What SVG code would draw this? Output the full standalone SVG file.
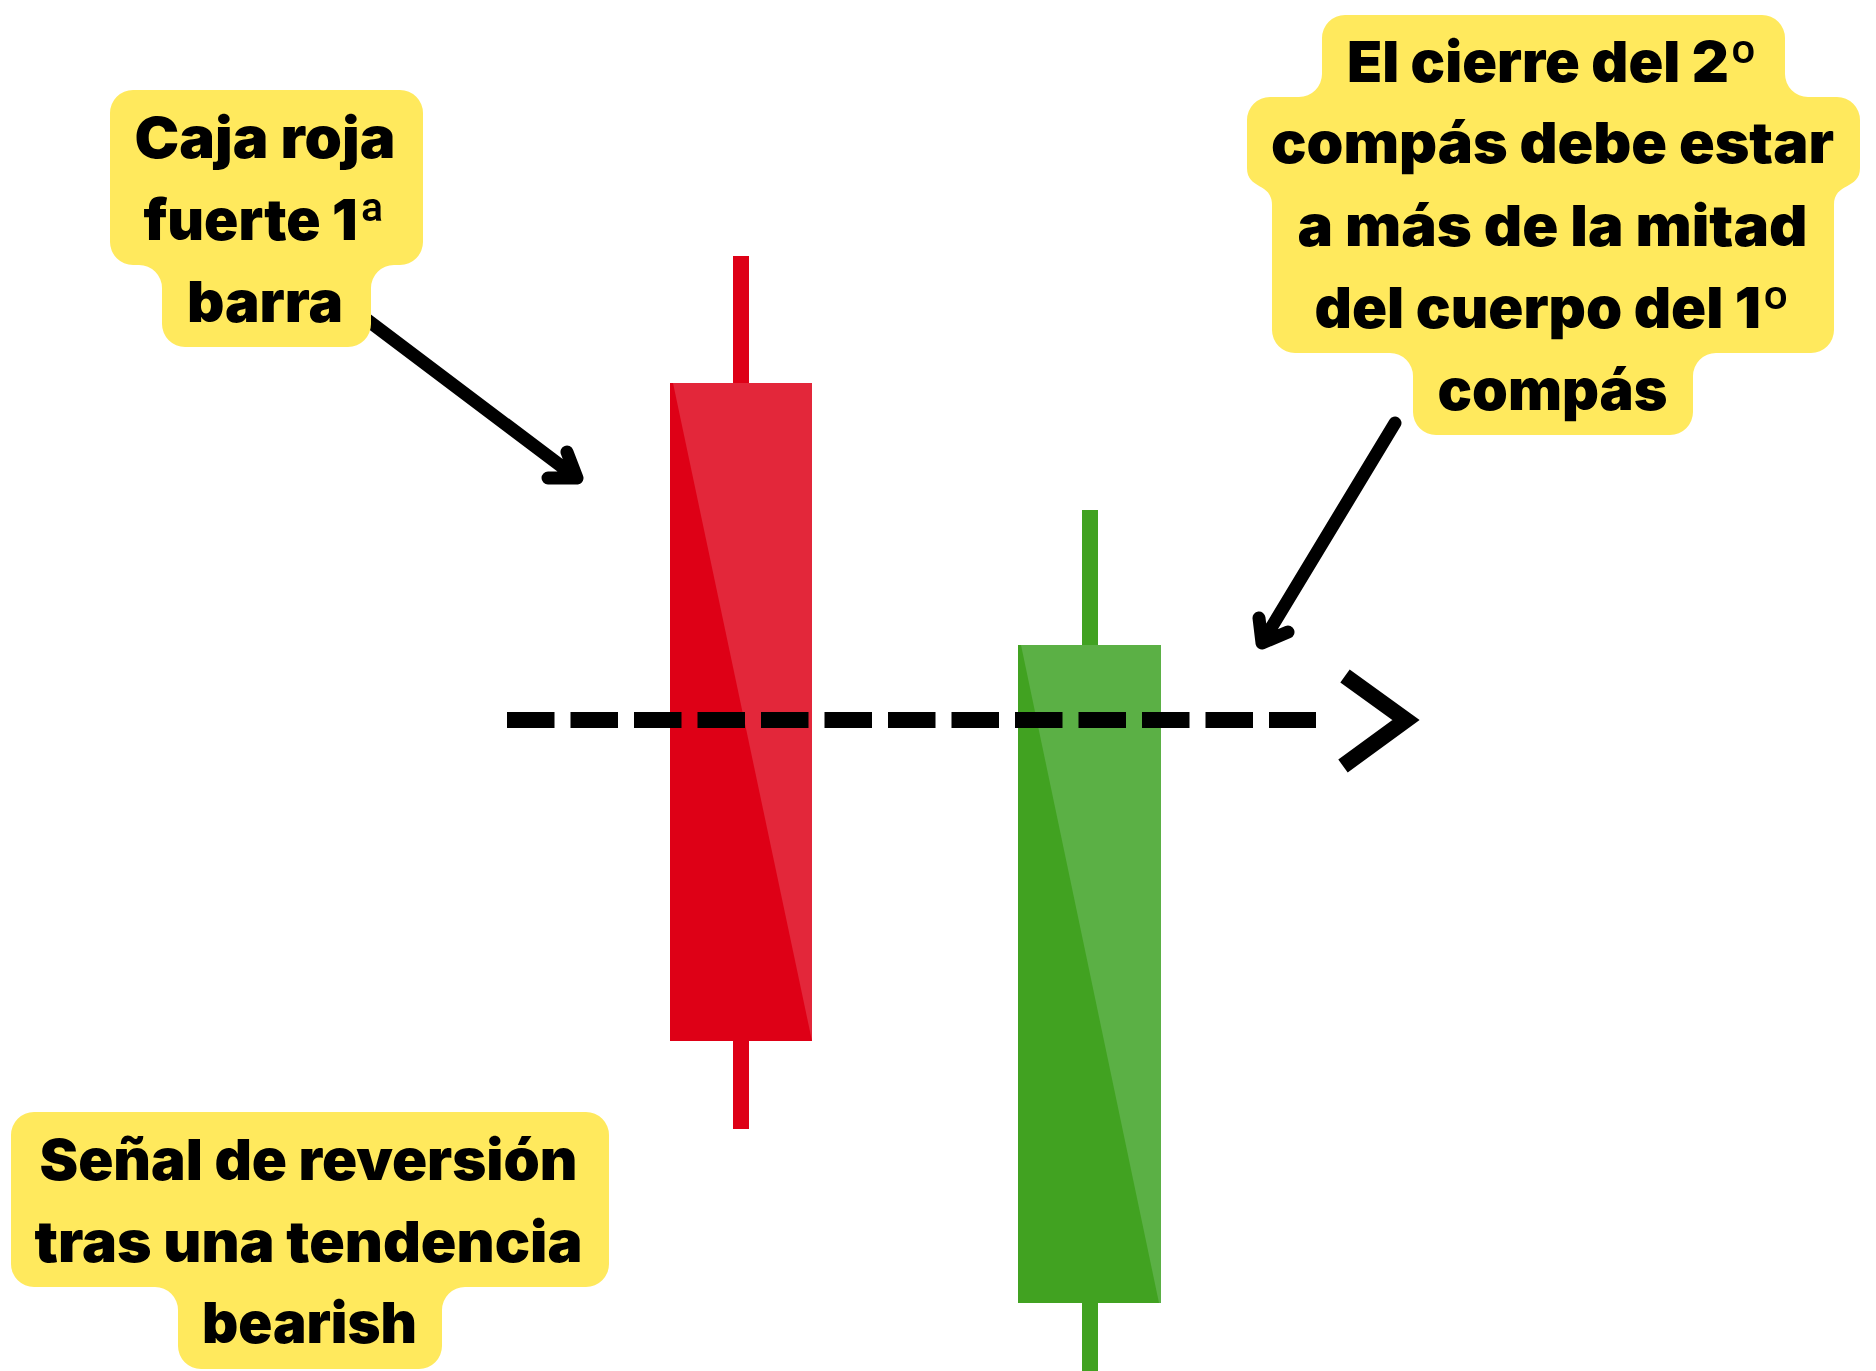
<svg xmlns="http://www.w3.org/2000/svg" width="1876" height="1371" viewBox="0 0 1876 1371">
<style>
.hl{fill:#FFE95D}
.lbl{font-family:Inter,Lato,"Open Sans","Liberation Sans",sans-serif;font-weight:900;font-size:57px;fill:#000;text-anchor:middle}
.arrow{fill:none;stroke:#000;stroke-width:13;stroke-linecap:round;stroke-linejoin:round}
</style>
<rect width="1876" height="1371" fill="#fff"/>
<g id="candle-red">
<rect x="733" y="256" width="16" height="873" fill="#DE0016"/>
<rect x="670" y="383" width="142" height="658" fill="#E3273A"/>
<polygon points="670,383 673,383 812,1041 670,1041" fill="#DE0016"/>
</g>
<g id="candle-green">
<rect x="1082" y="510" width="16" height="861" fill="#41A221"/>
<rect x="1018" y="645" width="143" height="658" fill="#5BB045"/>
<polygon points="1018,645 1021,645 1159,1303 1018,1303" fill="#41A221"/>
</g>
<g id="connectors">
<path d="M507,720 H1316" stroke="#000" stroke-width="16" stroke-dasharray="47.5 16" fill="none"/>
<polyline points="1345,676 1406,720 1343,766" fill="none" stroke="#000" stroke-width="16" stroke-linejoin="miter"/>
<path class="arrow" d="M362,316 L577,478 M567,452 L577,478 L548,478"/>
<path class="arrow" d="M1395,423 L1262,643 M1259,618 L1262,643 L1288,632"/>
</g>
<g id="label-caja">
<path class="hl" d="M133,90 H400 A23,23 0 0 1 423,113 V242 A23,23 0 0 1 400,265 H394 A23,23 0 0 0 371,288 V324 A23,23 0 0 1 348,347 H185 A23,23 0 0 1 162,324 V288 A23,23 0 0 0 139,265 H133 A23,23 0 0 1 110,242 V113 A23,23 0 0 1 133,90 Z"/>
<text class="lbl" x="265" y="158" textLength="261" lengthAdjust="spacingAndGlyphs">Caja roja</text>
<text class="lbl" x="265" y="240" textLength="243" lengthAdjust="spacingAndGlyphs">fuerte 1ª</text>
<text class="lbl" x="265" y="322" textLength="156" lengthAdjust="spacingAndGlyphs">barra</text>
</g>
<g id="label-cierre">
<path class="hl" d="M1345,15 H1762 A23,23 0 0 1 1785,38 V74 A23,23 0 0 0 1808,97 H1837 A23,23 0 0 1 1860,120 V168 C1860,190 1834,182 1834,205 V330 A23,23 0 0 1 1811,353 H1716 A23,23 0 0 0 1693,376 V412 A23,23 0 0 1 1670,435 H1436 A23,23 0 0 1 1413,412 V376 A23,23 0 0 0 1390,353 H1295 A23,23 0 0 1 1272,330 V205 C1272,182 1247,190 1247,168 V120 A23,23 0 0 1 1270,97 H1299 A23,23 0 0 0 1322,74 V38 A23,23 0 0 1 1345,15 Z"/>
<text class="lbl" x="1552.5" y="82" textLength="411" lengthAdjust="spacingAndGlyphs">El cierre del 2º</text>
<text class="lbl" x="1552.5" y="163" textLength="563" lengthAdjust="spacingAndGlyphs">compás debe estar</text>
<text class="lbl" x="1552.5" y="246" textLength="510" lengthAdjust="spacingAndGlyphs">a más de la mitad</text>
<text class="lbl" x="1552.5" y="328" textLength="476" lengthAdjust="spacingAndGlyphs">del cuerpo del 1º</text>
<text class="lbl" x="1552.5" y="410" textLength="230" lengthAdjust="spacingAndGlyphs">compás</text>
</g>
<g id="label-senal">
<path class="hl" d="M34,1112 H586 A23,23 0 0 1 609,1135 V1264 A23,23 0 0 1 586,1287 H465 A23,23 0 0 0 442,1310 V1346 A23,23 0 0 1 419,1369 H201 A23,23 0 0 1 178,1346 V1310 A23,23 0 0 0 155,1287 H34 A23,23 0 0 1 11,1264 V1135 A23,23 0 0 1 34,1112 Z"/>
<text class="lbl" x="308.5" y="1180" textLength="538" lengthAdjust="spacingAndGlyphs">Señal de reversión</text>
<text class="lbl" x="308.5" y="1262" textLength="548" lengthAdjust="spacingAndGlyphs">tras una tendencia</text>
<text class="lbl" x="309.5" y="1343" textLength="215" lengthAdjust="spacingAndGlyphs">bearish</text>
</g>
</svg>
